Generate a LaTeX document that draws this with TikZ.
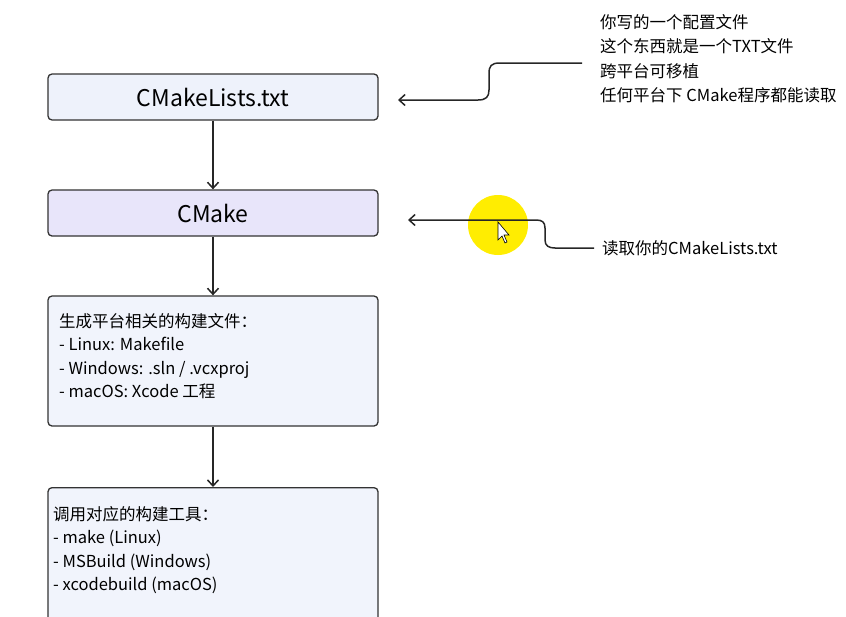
\documentclass[tikz,border=0pt]{standalone}
\usepackage{fontspec}
\setmainfont{Noto Sans CJK SC}
\usetikzlibrary{arrows.meta}
\definecolor{bA}{HTML}{EEF2FB}
\definecolor{bB}{HTML}{E8E5FA}
\definecolor{bC}{HTML}{F1F4FC}
\begin{document}
\begin{tikzpicture}[x=1pt,y=-1pt,
 box/.style={draw=black!80,line width=1.3pt,rounded corners=4pt},
 arr/.style={-{Straight Barb[length=6pt,width=11pt]},line width=1.5pt,black!85},
 lbl/.style={anchor=west,font=\fontsize{16.5}{20}\selectfont,inner sep=0pt}]
\useasboundingbox (0,0) rectangle (846,616);
\fill[yellow!95!orange] (498,225) circle (30);
\node[box,fill=bA,minimum width=330pt,minimum height=46pt,font=\fontsize{23}{27}\selectfont] (a) at (213,97) {CMakeLists.txt};
\node[box,fill=bB,minimum width=330pt,minimum height=46pt,font=\fontsize{23}{27}\selectfont] (b) at (213,213) {CMake};
\node[box,fill=bC,minimum width=330pt,minimum height=130pt] (c) at (213,361) {};
\node[box,fill=bC,minimum width=330pt,minimum height=150pt,anchor=north] (d) at (213,487) {};
\node[lbl,align=left,anchor=north west,font=\fontsize{16.5}{23.5}\selectfont] (ct) at (59,313) {生成平台相关的构建文件：\\ - Linux: Makefile\\ - Windows: .sln / .vcxproj\\ - macOS: Xcode 工程};
\node[lbl,align=left,anchor=north west,font=\fontsize{16.5}{23.5}\selectfont] (dt) at (53,506) {调用对应的构建工具：\\ - make (Linux)\\ - MSBuild (Windows)\\ - xcodebuild (macOS)};
\draw[arr] (a) -- (b);
\draw[arr] (b) -- (c);
\draw[arr] (c) -- (d);
\node[lbl,align=left,anchor=north west,font=\fontsize{16.5}{24.5}\selectfont] (n1) at (600,14) {你写的一个配置文件\\这个东西就是一个TXT文件\\跨平台可移植\\任何平台下 CMake程序都能读取};
\node[lbl] (n2) at (602,248) {读取你的CMakeLists.txt};
\coordinate (p1) at (582,63);
\coordinate (p2) at (594,248);
\coordinate (t1) at (398,100);
\coordinate (t2) at (408,220);
\draw[arr] (p1) -- (500,63) .. controls (491,63) and (489,66) .. (489,74) -- (489,90) .. controls (489,97) and (486,100) .. (478,100) -- (t1);
\draw[arr] (p2) -- (555,248) .. controls (549,248) and (545,246) .. (545,240) -- (545,228) .. controls (545,222) and (542,220) .. (536,220) -- (t2);
\draw[fill=white,line width=0.6pt] (498,222) -- (498,240) -- (502,236) -- (505,243) -- (507,242) -- (504,235) -- (509,235) -- cycle;
\end{tikzpicture}
\end{document}
